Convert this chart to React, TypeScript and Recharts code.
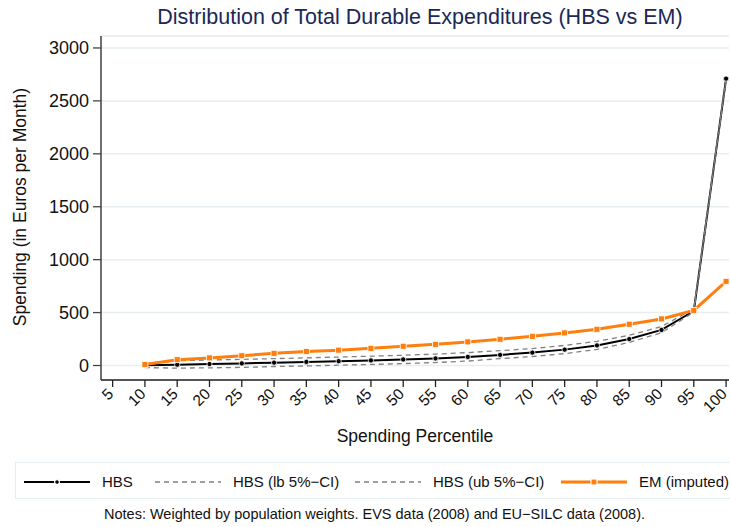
import React from 'react';
import { LineChart, Line, XAxis, YAxis, CartesianGrid } from 'recharts';

const percentiles = [10, 15, 20, 25, 30, 35, 40, 45, 50, 55, 60, 65, 70, 75, 80, 85, 90, 95, 100];
const hbs = [2, 8, 14, 20, 27, 34, 41, 48, 57, 67, 81, 100, 122, 150, 190, 250, 336, 515, 2710];
const hbsLb = [-20, -25, -22, -18, -10, -4, 3, 10, 18, 28, 42, 65, 85, 112, 152, 218, 310, 505, 2700];
const hbsUb = [20, 45, 52, 58, 65, 72, 80, 88, 97, 108, 122, 140, 160, 190, 228, 285, 368, 535, 2720];
const em = [10, 55, 72, 92, 115, 132, 145, 162, 182, 200, 223, 248, 276, 308, 342, 390, 440, 520, 795];

const xTicks = [5, 10, 15, 20, 25, 30, 35, 40, 45, 50, 55, 60, 65, 70, 75, 80, 85, 90, 95, 100];
const yTicks = [0, 500, 1000, 1500, 2000, 2500, 3000];

const data = percentiles.map((p, i) => ({
  p,
  hbs: hbs[i],
  lb: hbsLb[i],
  ub: hbsUb[i],
  em: em[i],
}));

const FONT = '"Liberation Sans", Arial, sans-serif';
const ORANGE = '#ff7f0e';
const GREY = '#808080';

// rotated tick label, its end sits just right of the tick mark
const XTick = ({ x, y, payload }: any) => (
  <text
    x={x - 6}
    y={y - 1}
    transform={`rotate(-45 ${x - 6} ${y - 1})`}
    textAnchor="end"
    dy="0.71em"
    fontSize={15.5}
    fontFamily={FONT}
    fill="#111"
  >
    {payload.value}
  </text>
);

const BlackDot = ({ cx, cy }: any) => (
  <circle cx={cx} cy={cy} r={2.6} fill="#000" stroke="#fff" strokeWidth={0.8} />
);

const SquareDot = ({ cx, cy }: any) => (
  <rect x={cx - 3} y={cy - 3} width={6} height={6} fill={ORANGE} stroke="#fff" strokeWidth={0.8} />
);

const LegendItem = ({ left, kind, label }: any) => (
  <div style={{ position: 'absolute', left, top: 0, height: 37, display: 'flex', alignItems: 'center' }}>
    <svg width={66} height={12} style={{ marginRight: 12 }}>
      {kind === 'hbs' && (
        <>
          <line x1={0} y1={6} x2={66} y2={6} stroke="#000" strokeWidth={2} />
          <circle cx={33} cy={6} r={2.4} fill="#000" stroke="#fff" strokeWidth={1.2} />
        </>
      )}
      {kind === 'ci' && (
        <line x1={0} y1={6} x2={66} y2={6} stroke={GREY} strokeWidth={1.3} strokeDasharray="5 4" />
      )}
      {kind === 'em' && (
        <>
          <line x1={0} y1={6} x2={66} y2={6} stroke={ORANGE} strokeWidth={3} />
          <rect x={30} y={3} width={6} height={6} fill={ORANGE} stroke="#fff" strokeWidth={1.2} />
        </>
      )}
    </svg>
    <span style={{ fontSize: 15, fontFamily: FONT, color: '#111', whiteSpace: 'nowrap' }}>{label}</span>
  </div>
);

export default function App() {
  return (
    <div style={{ position: 'absolute', left: 0, top: 0, width: 730, height: 527, background: '#fff', fontFamily: FONT }}>
      <div
        style={{
          position: 'absolute', left: 0, width: 840, top: 5, textAlign: 'center',
          fontSize: 21.5, color: '#1a2857', whiteSpace: 'nowrap',
        }}
      >
        Distribution of Total Durable Expenditures (HBS vs EM)
      </div>

      <LineChart width={730} height={527} data={data} margin={{ top: 36, right: 1, bottom: 87, left: 0 }}>
        <CartesianGrid vertical={false} stroke="#e6eef1" strokeWidth={1.5} />
        <XAxis
          dataKey="p"
          type="number"
          domain={[3.2, 100.45]}
          ticks={xTicks}
          interval={0}
          allowDataOverflow
          height={60}
          tickSize={7}
          tickMargin={1}
          tick={<XTick />}
          axisLine={{ stroke: '#222', strokeWidth: 1.3 }}
          tickLine={{ stroke: '#222', strokeWidth: 1.3 }}
        />
        <YAxis
          type="number"
          domain={[-137, 3113]}
          ticks={yTicks}
          interval={0}
          allowDataOverflow
          width={101}
          tickSize={8}
          tickMargin={4}
          tick={{ fontSize: 18, fontFamily: FONT, fill: '#111' }}
          axisLine={{ stroke: '#222', strokeWidth: 1.3 }}
          tickLine={{ stroke: '#444', strokeWidth: 1.3 }}
        />
        <Line dataKey="hbs" stroke="#000" strokeWidth={2} dot={<BlackDot />} isAnimationActive={false} />
        <Line dataKey="lb" stroke={GREY} strokeWidth={1.3} strokeDasharray="5 4" dot={false} isAnimationActive={false} />
        <Line dataKey="ub" stroke={GREY} strokeWidth={1.3} strokeDasharray="5 4" dot={false} isAnimationActive={false} />
        <Line dataKey="em" stroke={ORANGE} strokeWidth={3} dot={<SquareDot />} isAnimationActive={false} />
      </LineChart>

      <div
        style={{
          position: 'absolute', left: 20, top: 207, transform: 'translate(-50%, -50%) rotate(-90deg)',
          fontSize: 17.5, color: '#111', whiteSpace: 'nowrap',
        }}
      >
        Spending (in Euros per Month)
      </div>

      <div
        style={{
          position: 'absolute', left: 315, width: 200, top: 426, textAlign: 'center',
          fontSize: 17.5, color: '#111', whiteSpace: 'nowrap',
        }}
      >
        Spending Percentile
      </div>

      <div
        style={{
          position: 'absolute', left: 15, top: 462, width: 730, height: 37,
          border: '1.5px solid #e6eef1', boxSizing: 'border-box', background: '#fff',
        }}
      >
        <LegendItem left={8} kind="hbs" label="HBS" />
        <LegendItem left={139} kind="ci" label="HBS (lb 5%−CI)" />
        <LegendItem left={339} kind="ci" label="HBS (ub 5%−CI)" />
        <LegendItem left={545} kind="em" label="EM (imputed)" />
      </div>

      <div
        style={{
          position: 'absolute', left: 104, top: 506, fontSize: 14.5, color: '#111', whiteSpace: 'nowrap',
        }}
      >
        Notes: Weighted by population weights. EVS data (2008) and EU−SILC data (2008).
      </div>
    </div>
  );
}
